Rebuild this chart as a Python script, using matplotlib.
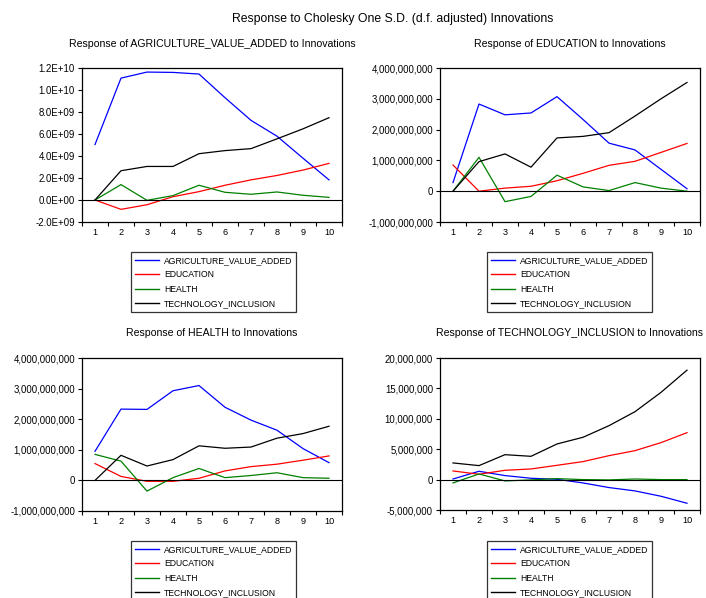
import matplotlib
matplotlib.use("Agg")
import matplotlib.pyplot as plt
from matplotlib.lines import Line2D
from matplotlib.ticker import FixedLocator, FuncFormatter

plt.rcParams['font.family'] = ['Liberation Sans', 'DejaVu Sans']

periods = [1, 2, 3, 4, 5, 6, 7, 8, 9, 10]
series_names = ["AGRICULTURE_VALUE_ADDED", "EDUCATION", "HEALTH", "TECHNOLOGY_INCLUSION"]
series_colors = ["#0000ff", "#ff0000", "#008000", "#000000"]

# Response of AGRICULTURE_VALUE_ADDED
agri_agri = [5.04e9, 11.08e9, 11.63e9, 11.6e9, 11.45e9, 9.3e9, 7.24e9, 5.8e9, 3.8e9, 1.83e9]
agri_edu = [0, -0.85e9, -0.43e9, 0.3e9, 0.76e9, 1.34e9, 1.83e9, 2.23e9, 2.72e9, 3.33e9]
agri_health = [0, 1.4e9, -0.03e9, 0.4e9, 1.34e9, 0.7e9, 0.52e9, 0.73e9, 0.43e9, 0.24e9]
agri_tech = [0, 2.66e9, 3.05e9, 3.05e9, 4.21e9, 4.49e9, 4.67e9, 5.56e9, 6.47e9, 7.48e9]

# Response of EDUCATION
edu_agri = [0.28e9, 2.83e9, 2.48e9, 2.54e9, 3.07e9, 2.33e9, 1.56e9, 1.34e9, 0.71e9, 0.08e9]
edu_edu = [0.85e9, 0.0, 0.1e9, 0.16e9, 0.34e9, 0.58e9, 0.84e9, 0.97e9, 1.26e9, 1.55e9]
edu_health = [0, 1.1e9, -0.34e9, -0.17e9, 0.52e9, 0.14e9, 0.02e9, 0.28e9, 0.1e9, 0.0]
edu_tech = [0, 0.96e9, 1.21e9, 0.78e9, 1.73e9, 1.78e9, 1.9e9, 2.44e9, 3.0e9, 3.53e9]

# Response of HEALTH
hea_agri = [0.95e9, 2.33e9, 2.32e9, 2.93e9, 3.1e9, 2.39e9, 1.97e9, 1.64e9, 1.04e9, 0.58e9]
hea_edu = [0.55e9, 0.13e9, -0.03e9, -0.03e9, 0.07e9, 0.31e9, 0.45e9, 0.53e9, 0.66e9, 0.8e9]
hea_health = [0.85e9, 0.63e9, -0.35e9, 0.09e9, 0.39e9, 0.09e9, 0.16e9, 0.25e9, 0.09e9, 0.07e9]
hea_tech = [0, 0.82e9, 0.47e9, 0.68e9, 1.13e9, 1.05e9, 1.09e9, 1.38e9, 1.53e9, 1.77e9]

# Response of TECHNOLOGY_INCLUSION
tec_agri = [0.1e6, 1.37e6, 0.66e6, 0.22e6, 0.05e6, -0.55e6, -1.31e6, -1.86e6, -2.74e6, -3.89e6]
tec_edu = [1.42e6, 0.88e6, 1.53e6, 1.75e6, 2.35e6, 2.96e6, 3.94e6, 4.76e6, 6.08e6, 7.72e6]
tec_health = [-0.55e6, 0.93e6, -0.22e6, -0.05e6, 0.16e6, 0.0, -0.05e6, 0.1e6, 0.0, 0.0]
tec_tech = [2.74e6, 2.3e6, 4.1e6, 3.83e6, 5.86e6, 6.96e6, 8.87e6, 11.17e6, 14.35e6, 18.0e6]

panel_titles = ["Response of AGRICULTURE_VALUE_ADDED to Innovations",
                "Response of EDUCATION to Innovations",
                "Response of HEALTH to Innovations",
                "Response of TECHNOLOGY_INCLUSION to Innovations"]
panel_data = [[agri_agri, agri_edu, agri_health, agri_tech],
              [edu_agri, edu_edu, edu_health, edu_tech],
              [hea_agri, hea_edu, hea_health, hea_tech],
              [tec_agri, tec_edu, tec_health, tec_tech]]
panel_ylims = [(-2e9, 1.2e10), (-1e9, 4e9), (-1e9, 4e9), (-5e6, 2e7)]
panel_ysteps = [2e9, 1e9, 1e9, 5e6]
panel_fmt = ["sci", "comma", "comma", "comma"]

W, H = 706, 598
fig = plt.figure(figsize=(W / 100, H / 100), dpi=100)

# pixel boxes: left, top, right, bottom
boxes = [(82, 68, 342, 222), (440, 68, 700, 222), (82, 358, 342, 511), (440, 358, 700, 510)]
title_y = [44, 44, 333, 333]
legend_boxes = [(131, 252), (487, 252), (131, 541), (487, 541)]

fig.text(393 / W, 1 - 19 / H, "Response to Cholesky One S.D. (d.f. adjusted) Innovations",
         ha="center", va="center", fontsize=8.8)

def fmt_sci(v, pos):
    return "%.1E" % v

def fmt_comma(v, pos):
    return "{:,.0f}".format(v)

for i in range(4):
    l, t, r, b = boxes[i]
    ax = fig.add_axes([l / W, 1 - b / H, (r - l) / W, (b - t) / H])
    for j in range(4):
        ax.plot(periods, panel_data[i][j], color=series_colors[j], lw=0.9)
    ax.axhline(0, color="black", lw=0.8)
    ax.set_xlim(0.5, 10.5)
    y0, y1 = panel_ylims[i]
    ax.set_ylim(y0, y1)
    step = panel_ysteps[i]
    n = int(round((y1 - y0) / step))
    ax.yaxis.set_major_locator(FixedLocator([y0 + k * step for k in range(n + 1)]))
    ax.yaxis.set_major_formatter(FuncFormatter(fmt_sci if panel_fmt[i] == "sci" else fmt_comma))
    ax.xaxis.set_major_locator(FixedLocator([k + 0.5 for k in range(0, 11)]))
    ax.xaxis.set_major_formatter(FuncFormatter(lambda v, p: ""))
    ax.xaxis.set_minor_locator(FixedLocator(periods))
    ax.xaxis.set_minor_formatter(FuncFormatter(lambda v, p: "%d" % round(v)))
    ax.tick_params(axis="x", which="major", direction="out", length=3, width=0.8)
    ax.tick_params(axis="x", which="minor", length=0, labelsize=6.6, pad=4)
    ax.tick_params(axis="y", direction="out", length=3, width=0.8, labelsize=6.9, pad=2)
    for s in ax.spines.values():
        s.set_linewidth(0.9)
    cx = (l + r) / 2
    fig.text(cx / W, 1 - title_y[i] / H, panel_titles[i], ha="center", va="center", fontsize=7.6)

    handles = [Line2D([], [], color=series_colors[j], lw=1.0) for j in range(4)]
    lx, ly = legend_boxes[i]
    leg = fig.legend(handles, series_names, loc="upper left",
                     bbox_to_anchor=(lx / W, 1 - ly / H), bbox_transform=fig.transFigure,
                     fontsize=6.2, frameon=True, fancybox=False, shadow=False,
                     handlelength=2.8, handletextpad=0.6, labelspacing=0.62,
                     borderpad=0.45, borderaxespad=0)
    leg.get_frame().set_edgecolor("black")
    leg.get_frame().set_linewidth(0.9)

fig.savefig("out.png", dpi=100)
